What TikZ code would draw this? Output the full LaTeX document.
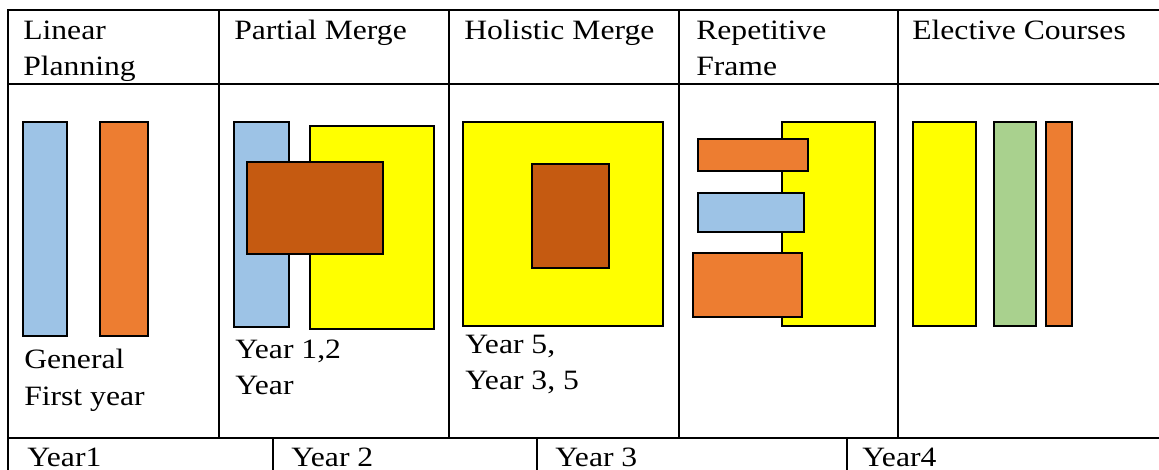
\documentclass[tikz,border=0pt]{standalone}
\usepackage{fontspec}
\setmainfont{Liberation Serif}
\usepackage{graphicx}
\definecolor{cblue}{HTML}{9DC3E6}
\definecolor{corange}{HTML}{ED7D31}
\definecolor{cbrown}{HTML}{C55A11}
\definecolor{cyellow}{HTML}{FFFF00}
\definecolor{cgreen}{HTML}{A9D18E}
\newcommand\wtxt[1]{\scalebox{1.13}[1]{#1}}
\tikzset{
  grid/.style={line width=1.8pt, line cap=rect},
  blk/.style={draw=black, line width=1.4pt},
  lbl/.style={anchor=base west, inner sep=0pt, font=\fontsize{21}{24}\selectfont},
}
\begin{document}
\begin{tikzpicture}[x=0.75pt,y=-0.75pt]
\useasboundingbox (0,0) rectangle (1159,470);
% table grid
\draw[grid] (8,10) -- (1159,10);
\draw[grid] (8,84) -- (1159,84);
\draw[grid] (8,438) -- (1159,438);
\draw[grid] (8,10) -- (8,470);
\foreach \x in {219,449,679,898} \draw[grid] (\x,10) -- (\x,438);
\foreach \x in {273,537,847} \draw[grid] (\x,438) -- (\x,470);
% header texts
\node[lbl] (h1a) at (23,40) {\wtxt{Linear}};
\node[lbl] (h1b) at (23,76) {\wtxt{Planning}};
\node[lbl] (h2) at (234,40) {\wtxt{Partial Merge}};
\node[lbl] (h3) at (464,40) {\wtxt{Holistic Merge}};
\node[lbl] (h4a) at (696,40) {\wtxt{Repetitive}};
\node[lbl] (h4b) at (696,76) {\wtxt{Frame}};
\node[lbl] (h5) at (912,40) {\wtxt{Elective Courses}};
% Linear planning
\draw[blk, fill=cblue] (23,122) rectangle (67,336);
\draw[blk, fill=corange] (100,122) rectangle (148,336);
\node[lbl] (g1) at (24,368) {\wtxt{General}};
\node[lbl] (g2) at (24,405) {\wtxt{First year}};
% Partial merge
\draw[blk, fill=cblue] (234,122) rectangle (289,327);
\draw[blk, fill=cyellow] (310,126) rectangle (434,329);
\draw[blk, fill=cbrown] (247,162) rectangle (383,254);
\node[lbl] (p1) at (235,358) {\wtxt{Year 1,2}};
\node[lbl] (p2) at (235,394) {\wtxt{Year}};
% Holistic merge
\draw[blk, fill=cyellow] (463,122) rectangle (663,326);
\draw[blk, fill=cbrown] (532,164) rectangle (609,268);
\node[lbl] (o1) at (465,353) {\wtxt{Year 5,}};
\node[lbl] (o2) at (465,389) {\wtxt{Year 3, 5}};
% Repetitive frame
\draw[blk, fill=cyellow] (782,122) rectangle (875,326);
\draw[blk, fill=corange] (698,139) rectangle (808,171);
\draw[blk, fill=cblue] (698,193) rectangle (804,232);
\draw[blk, fill=corange] (693,253) rectangle (802,317);
% Elective courses
\draw[blk, fill=cyellow] (913,122) rectangle (976,326);
\draw[blk, fill=cgreen] (994,122) rectangle (1036,326);
\draw[blk, fill=corange] (1046,122) rectangle (1072,326);
% bottom row
\node[lbl] (y1) at (27,466) {\wtxt{Year1}};
\node[lbl] (y2) at (291,466) {\wtxt{Year 2}};
\node[lbl] (y3) at (555,466) {\wtxt{Year 3}};
\node[lbl] (y4) at (862,466) {\wtxt{Year4}};
\end{tikzpicture}
\end{document}
